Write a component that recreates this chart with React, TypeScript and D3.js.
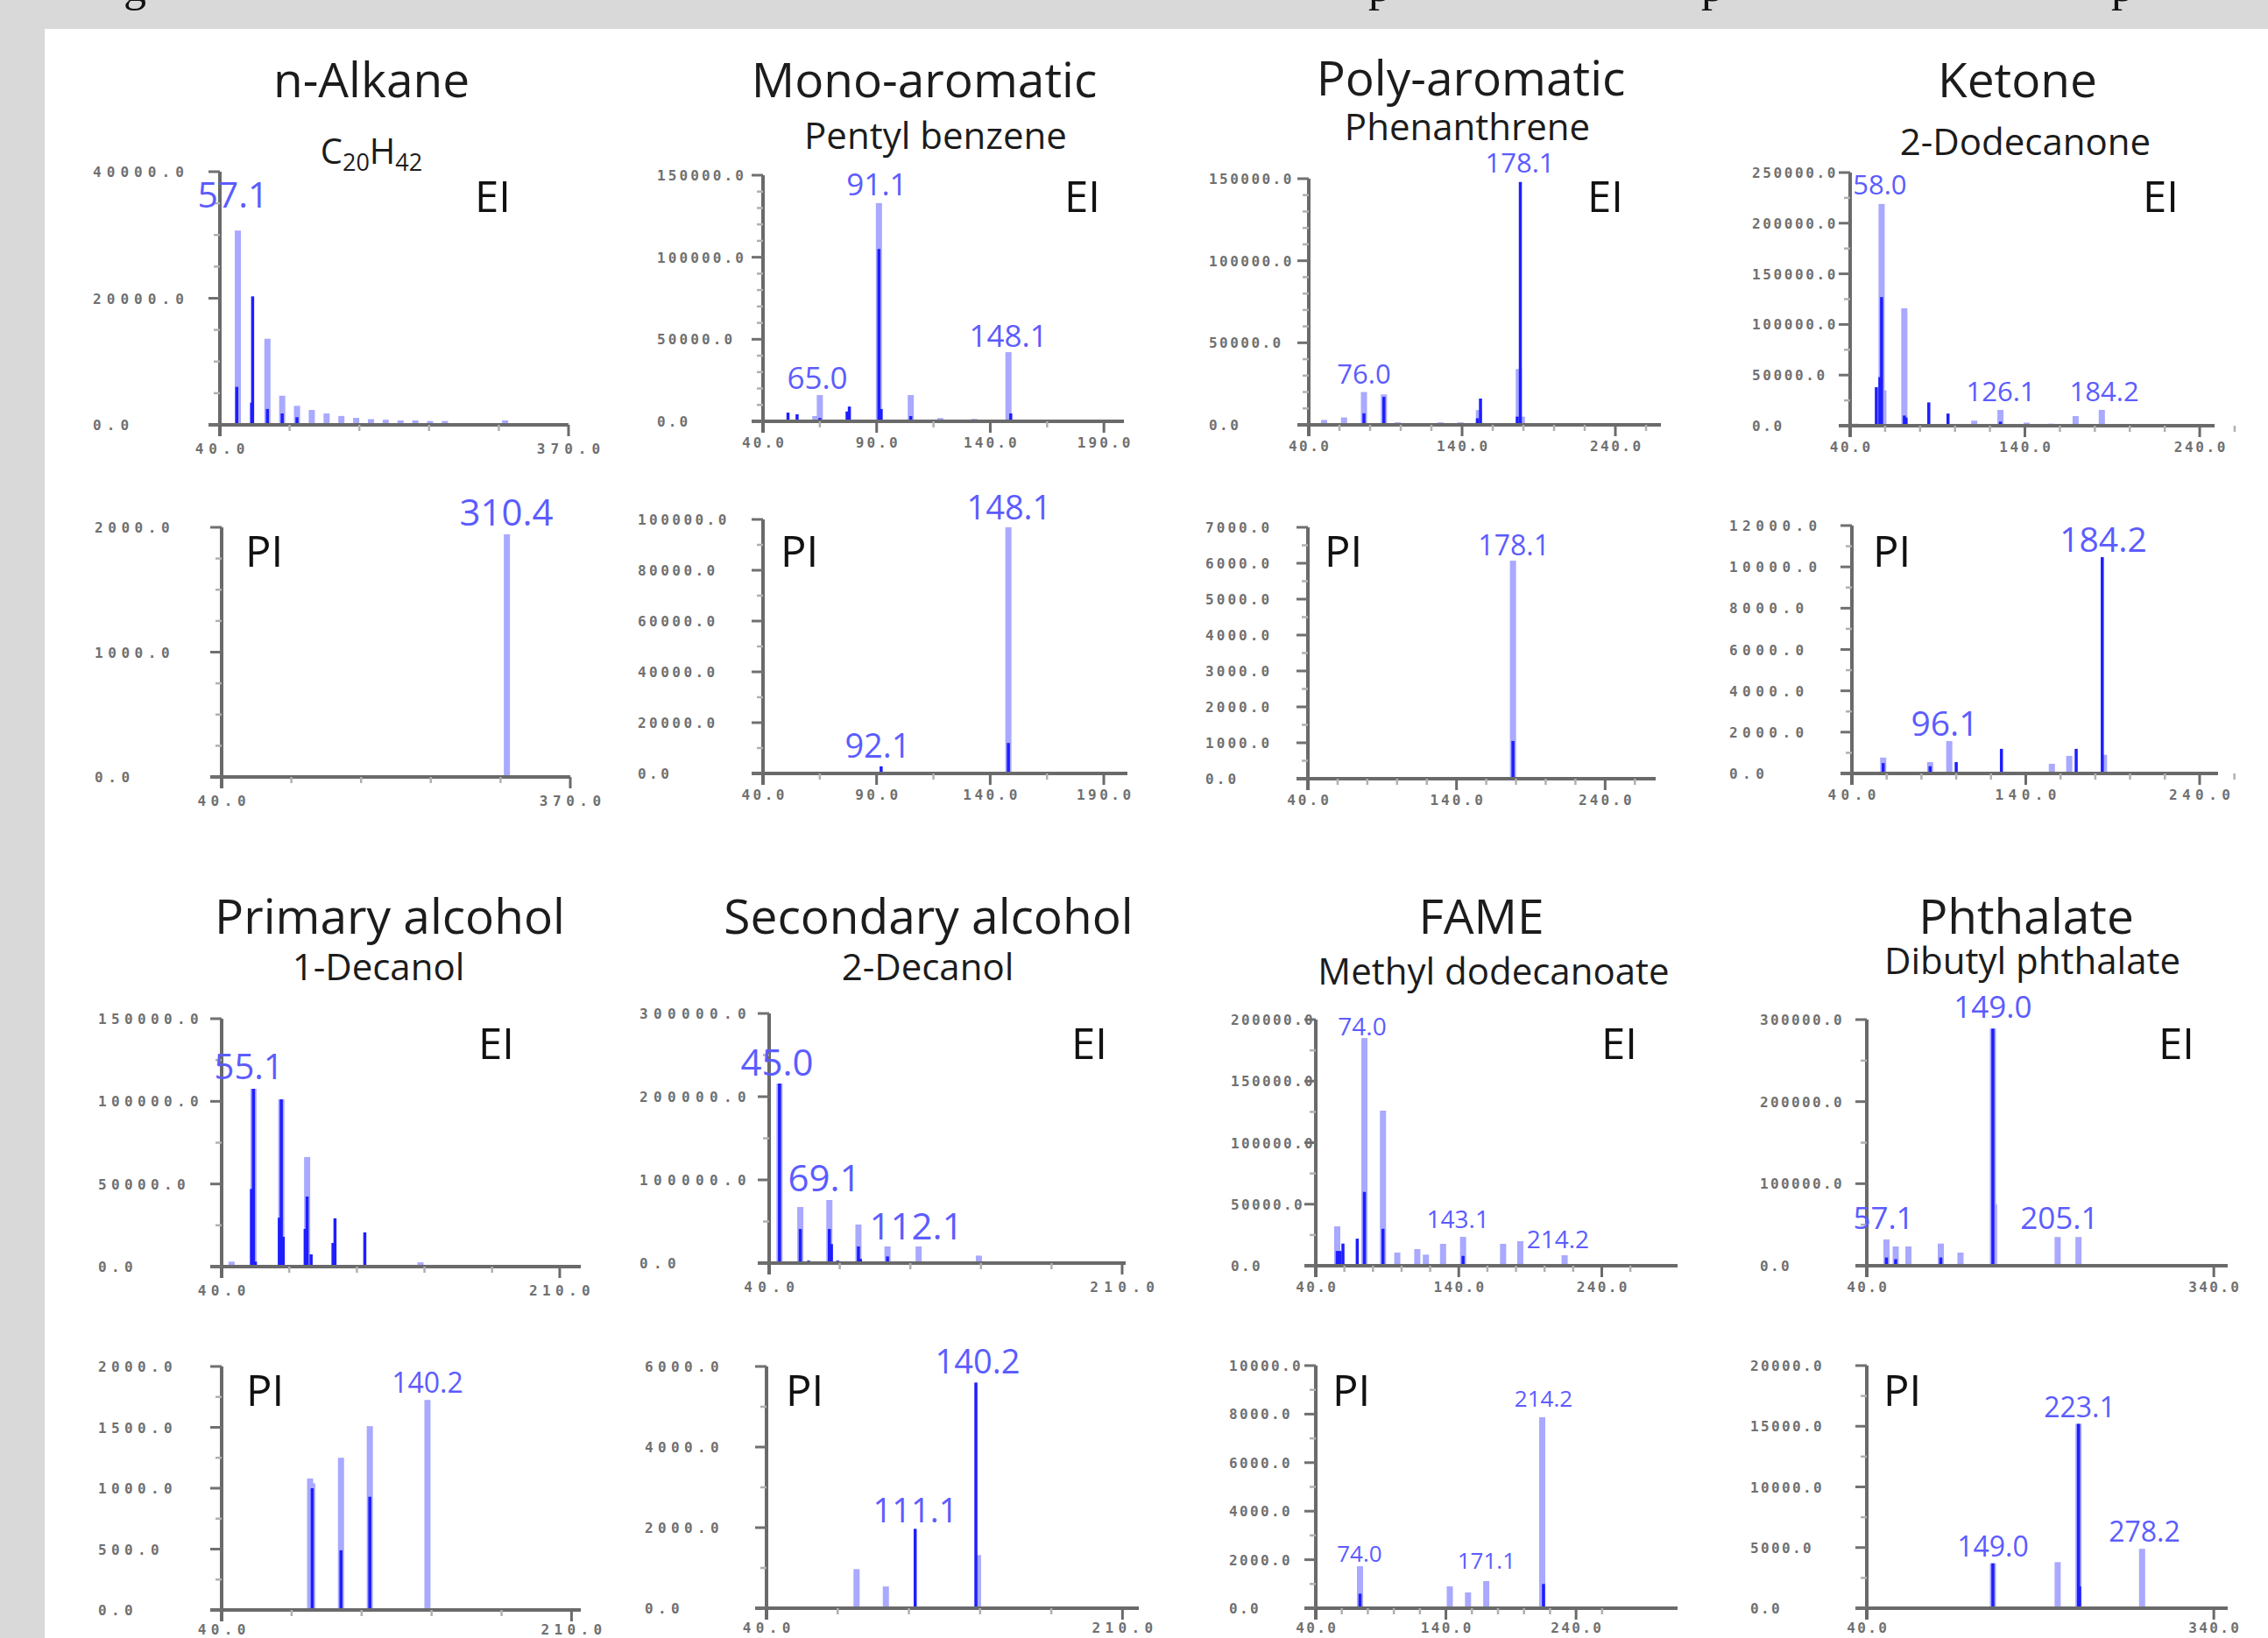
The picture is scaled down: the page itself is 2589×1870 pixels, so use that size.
import React from "react";
import * as d3 from "d3";

type Peak = [number, number];
type Note = { text: string; mz: number; v: number };

// ---------------- DATA ----------------
// Row 1: EI spectra
const alkaneEiLight: Peak[] = [[57, 30700], [85, 13600], [99, 4600], [113, 3000], [127, 2350], [141, 1800], [155, 1400], [169, 1100], [183, 900], [197, 800], [211, 700], [225, 700], [239, 600], [253, 600], [310, 700]];
const alkaneEiDark: Peak[] = [[56, 6000], [71, 20300], [70, 3500], [85, 2500], [99, 1800], [113, 1200]];
const alkaneEiNotes: Note[] = [{ text: "57.1", mz: 52.4, v: 34300 }];

const monoEiLight: Peak[] = [[91, 133000], [148, 42200], [65, 16000], [105, 16000], [63, 3200], [118, 2000], [133, 1500]];
const monoEiDark: Peak[] = [[91, 105000], [92, 7500], [149, 4800], [51, 5300], [55, 4300], [77, 6000], [78, 9000], [105, 3200], [65, 2000]];
const monoEiNotes: Note[] = [{ text: "91.1", mz: 90.1, v: 137700 }, { text: "148.1", mz: 148, v: 45400 }, { text: "65.0", mz: 63.9, v: 19800 }];

const polyEiLight: Peak[] = [[177, 34000], [76, 20000], [89, 18500], [151, 9000], [50, 3000], [63, 4500], [98, 1500], [126, 1500], [139, 1500], [179, 5000]];
const polyEiDark: Peak[] = [[178, 148000], [152, 16000], [76, 7000], [89, 17000], [176, 5000], [150, 4000]];
const polyEiNotes: Note[] = [{ text: "178.1", mz: 177.7, v: 153800 }, { text: "76.0", mz: 76, v: 25100 }];

const ketoneEiLight: Peak[] = [[58, 219000], [59, 35000], [71, 116000], [126, 15600], [184, 15600], [111, 5000], [141, 3000], [155, 2000], [169, 9500], [43, 2000]];
const ketoneEiDark: Peak[] = [[58, 127000], [57, 48000], [55, 38000], [71, 10000], [72, 8000], [85, 23000], [96, 12000], [126, 4000]];
const ketoneEiNotes: Note[] = [{ text: "58.0", mz: 57, v: 228400 }, { text: "126.1", mz: 126.2, v: 24200 }, { text: "184.2", mz: 185.4, v: 24200 }];

// Row 2: PI spectra
const alkanePiLight: Peak[] = [[310, 1944]];
const alkanePiDark: Peak[] = [];
const alkanePiNotes: Note[] = [{ text: "310.4", mz: 309.5, v: 2014 }];

const monoPiLight: Peak[] = [[148, 96900]];
const monoPiDark: Peak[] = [[148, 12000], [92, 2800]];
const monoPiNotes: Note[] = [{ text: "148.1", mz: 148.3, v: 100000 }, { text: "92.1", mz: 90.5, v: 6200 }];

const polyPiLight: Peak[] = [[178, 6070]];
const polyPiDark: Peak[] = [[178, 1050]];
const polyPiNotes: Note[] = [{ text: "178.1", mz: 178.6, v: 6220 }];

const ketonePiLight: Peak[] = [[185, 900], [58, 770], [85, 550], [96, 1570], [155, 470], [165, 850]];
const ketonePiDark: Peak[] = [[184, 10470], [100, 550], [126, 1190], [169, 1190], [58, 500], [85, 350]];
const ketonePiNotes: Note[] = [{ text: "96.1", mz: 93.4, v: 1830 }, { text: "184.2", mz: 184.6, v: 10720 }];

// Row 3: EI spectra
const primaryEiLight: Peak[] = [[56, 107600], [70, 101200], [83, 66300], [140, 2600], [45, 3000]];
const primaryEiDark: Peak[] = [[56, 107600], [55, 47000], [57, 3000], [70, 101200], [69, 29600], [71, 18000], [83, 42400], [82, 22800], [85, 7400], [97, 29200], [96, 14300], [112, 20700]];
const primaryEiNotes: Note[] = [{ text: "55.1", mz: 53.7, v: 113400 }];

const secondaryEiLight: Peak[] = [[45, 215800], [55, 67400], [69, 75800], [83, 46300], [97, 20000], [112, 20000], [141, 9000]];
const secondaryEiDark: Peak[] = [[45, 215800], [55, 41000], [59, 3000], [69, 41000], [70, 22800], [73, 3000], [83, 20000], [84, 5000], [97, 8000], [126, 2000]];
const secondaryEiNotes: Note[] = [{ text: "45.0", mz: 43.8, v: 225300 }, { text: "69.1", mz: 66.6, v: 86300 }, { text: "112.1", mz: 110.9, v: 28400 }];

const fameEiLight: Peak[] = [[74, 185000], [87, 126000], [143, 23500], [55, 32000], [97, 10700], [111, 13500], [129, 17800], [171, 17800], [183, 20000], [214, 8500], [117, 9000]];
const fameEiDark: Peak[] = [[74, 60000], [87, 30000], [59, 18000], [69, 22000], [57, 12000], [55, 12000], [143, 8000]];
const fameEiNotes: Note[] = [{ text: "74.0", mz: 72.5, v: 187200 }, { text: "143.1", mz: 139.4, v: 30600 }, { text: "214.2", mz: 209.3, v: 14200 }];

const phthalateEiLight: Peak[] = [[149, 289000], [150, 75000], [57, 32000], [205, 35000], [223, 35000], [65, 23500], [76, 23500], [104, 27000], [121, 16000]];
const phthalateEiDark: Peak[] = [[149, 289000], [57, 10000], [65, 8000], [104, 10000]];
const phthalateEiNotes: Note[] = [{ text: "149.0", mz: 149, v: 302000 }, { text: "57.1", mz: 54.4, v: 44800 }, { text: "205.1", mz: 206.5, v: 44800 }];

// Row 4: PI spectra
const primaryPiLight: Peak[] = [[140, 1725], [83, 1080], [84, 1040], [112, 1510], [98, 1250]];
const primaryPiDark: Peak[] = [[112, 930], [98, 490], [84, 1000]];
const primaryPiNotes: Note[] = [{ text: "140.2", mz: 140, v: 1784 }];

const secondaryPiLight: Peak[] = [[141, 1320], [97, 540], [83, 970]];
const secondaryPiDark: Peak[] = [[140, 5600], [111, 1970]];
const secondaryPiNotes: Note[] = [{ text: "140.2", mz: 140.8, v: 5826 }, { text: "111.1", mz: 111.1, v: 2130 }];

const famePiLight: Peak[] = [[214, 7870], [74, 1730], [171, 1120], [143, 900], [157, 650]];
const famePiDark: Peak[] = [[215, 1000], [74, 600]];
const famePiNotes: Note[] = [{ text: "74.0", mz: 73.6, v: 1910 }, { text: "171.1", mz: 171.2, v: 1620 }, { text: "214.2", mz: 215, v: 8300 }];

const phthalatePiLight: Peak[] = [[223, 15200], [278, 4900], [149, 3700], [205, 3800]];
const phthalatePiDark: Peak[] = [[223, 15200], [149, 3700], [224, 1800]];
const phthalatePiNotes: Note[] = [{ text: "223.1", mz: 224, v: 15740 }, { text: "278.2", mz: 280, v: 5490 }, { text: "149.0", mz: 149, v: 4260 }];

// Tick values
const xTicksAlkane = [40, 370];
const xMinorAlkane = [106, 172, 238, 304];
const xTicksMono = [40, 90, 140, 190];
const xMinorMono = [65, 115, 165];
const xTicksHundred = [40, 140, 240];
const xMinorHundred = [60, 80, 100, 120, 160, 180, 200, 220, 260];
const xTicksAlcohol = [40, 210];
const xMinorAlcohol = [74, 108, 142, 176];
const xTicksPhthalate = [40, 340];
const xMinorPhthalate: number[] = [];

const yTicksAlkaneEi = [0, 20000, 40000];
const yTicks150k = [0, 50000, 100000, 150000];
const yTicksKetoneEi = [0, 50000, 100000, 150000, 200000, 250000];
const yTicksAlkanePi = [0, 1000, 2000];
const yTicksMonoPi = [0, 20000, 40000, 60000, 80000, 100000];
const yTicksPolyPi = [0, 1000, 2000, 3000, 4000, 5000, 6000, 7000];
const yTicksKetonePi = [0, 2000, 4000, 6000, 8000, 10000, 12000];
const yTicks300kBig = [0, 100000, 200000, 300000];
const yTicksFameEi = [0, 50000, 100000, 150000, 200000];
const yTicksPrimaryPi = [0, 500, 1000, 1500, 2000];
const yTicksSecondaryPi = [0, 2000, 4000, 6000];
const yTicksFamePi = [0, 2000, 4000, 6000, 8000, 10000];
const yTicksPhthalatePi = [0, 5000, 10000, 15000, 20000];

// ---------------- LAYOUT ----------------
type Pos = { x: number; y: number };
type Spec = {
  mode: "EI" | "PI";
  title?: string;
  sub?: React.ReactNode;
  light: Peak[];
  dark: Peak[];
  notes: Note[];
  xTicks: number[];
  xMinor: number[];
  yTicks: number[];
  yMinor: number;
  xEnd: number;
  yMax: number;
  ax: number; rx: number; top: number; base: number;
  tickX: number; adv: number; noteSize: number;
  titlePos?: Pos; subPos?: Pos; modePos: Pos; xLabelDy: number;
};

const alkaneSub = (
  <>
    C<tspan fontSize={27} dy={8}>20</tspan><tspan dy={-8}>H</tspan><tspan fontSize={27} dy={8}>42</tspan>
  </>
);

const specs: Spec[] = [
  { mode: "EI", title: "n-Alkane", sub: alkaneSub, light: alkaneEiLight, dark: alkaneEiDark, notes: alkaneEiNotes, xTicks: xTicksAlkane, xMinor: xMinorAlkane, yTicks: yTicksAlkaneEi, yMinor: 5000, xEnd: 370, yMax: 40000, ax: 251, rx: 649, top: 196, base: 485, tickX: 106, adv: 15.7, noteSize: 41, titlePos: { x: 424, y: 111 }, subPos: { x: 424, y: 187 }, modePos: { x: 583, y: 242 }, xLabelDy: 33 },
  { mode: "EI", title: "Mono-aromatic", sub: "Pentyl benzene", light: monoEiLight, dark: monoEiDark, notes: monoEiNotes, xTicks: xTicksMono, xMinor: xMinorMono, yTicks: yTicks150k, yMinor: 10000, xEnd: 198.8, yMax: 150000, ax: 871, rx: 1283, top: 200, base: 481, tickX: 750, adv: 12.75, noteSize: 35, titlePos: { x: 1055, y: 111 }, subPos: { x: 1068, y: 170 }, modePos: { x: 1256, y: 242 }, xLabelDy: 30 },
  { mode: "EI", title: "Poly-aromatic", sub: "Phenanthrene", light: polyEiLight, dark: polyEiDark, notes: polyEiNotes, xTicks: xTicksHundred, xMinor: xMinorHundred, yTicks: yTicks150k, yMinor: 10000, xEnd: 269.7, yMax: 150000, ax: 1494, rx: 1896, top: 204, base: 485, tickX: 1380, adv: 12.1, noteSize: 31, titlePos: { x: 1679, y: 109 }, subPos: { x: 1675, y: 160 }, modePos: { x: 1853, y: 242 }, xLabelDy: 30 },
  { mode: "EI", title: "Ketone", sub: "2-Dodecanone", light: ketoneEiLight, dark: ketoneEiDark, notes: ketoneEiNotes, xTicks: xTicksHundred, xMinor: xMinorHundred, yTicks: yTicksKetoneEi, yMinor: 25000, xEnd: 248.5, yMax: 250000, ax: 2112, rx: 2528, top: 197, base: 486, tickX: 2000, adv: 12.25, noteSize: 31, titlePos: { x: 2303, y: 111 }, subPos: { x: 2312, y: 177 }, modePos: { x: 2487, y: 242 }, xLabelDy: 30 },

  { mode: "PI", light: alkanePiLight, dark: alkanePiDark, notes: alkanePiNotes, xTicks: xTicksAlkane, xMinor: xMinorAlkane, yTicks: yTicksAlkanePi, yMinor: 250, xEnd: 370, yMax: 2000, ax: 253, rx: 651, top: 602, base: 887, tickX: 108, adv: 15.2, noteSize: 42, modePos: { x: 280, y: 647 }, xLabelDy: 33 },
  { mode: "PI", light: monoPiLight, dark: monoPiDark, notes: monoPiNotes, xTicks: xTicksMono, xMinor: xMinorMono, yTicks: yTicksMonoPi, yMinor: 10000, xEnd: 200.4, yMax: 100000, ax: 871, rx: 1287, top: 593, base: 883, tickX: 728, adv: 13.1, noteSize: 38, modePos: { x: 891, y: 647 }, xLabelDy: 30 },
  { mode: "PI", light: polyPiLight, dark: polyPiDark, notes: polyPiNotes, xTicks: xTicksHundred, xMinor: xMinorHundred, yTicks: yTicksPolyPi, yMinor: 500, xEnd: 274, yMax: 7000, ax: 1493, rx: 1890, top: 602, base: 889, tickX: 1376, adv: 12.7, noteSize: 32, modePos: { x: 1512, y: 647 }, xLabelDy: 30 },
  { mode: "PI", light: ketonePiLight, dark: ketonePiDark, notes: ketonePiNotes, xTicks: xTicksHundred, xMinor: xMinorHundred, yTicks: yTicksKetonePi, yMinor: 1000, xEnd: 250.6, yMax: 12000, ax: 2114, rx: 2532, top: 600, base: 883, tickX: 1974, adv: 15.1, noteSize: 39, modePos: { x: 2138, y: 647 }, xLabelDy: 30 },

  { mode: "EI", title: "Primary alcohol", sub: "1-Decanol", light: primaryEiLight, dark: primaryEiDark, notes: primaryEiNotes, xTicks: xTicksAlcohol, xMinor: xMinorAlcohol, yTicks: yTicks150k, yMinor: 25000, xEnd: 220.6, yMax: 150000, ax: 253, rx: 663, top: 1163, base: 1446, tickX: 112, adv: 15, noteSize: 40, titlePos: { x: 445, y: 1066 }, subPos: { x: 432, y: 1119 }, modePos: { x: 587, y: 1209 }, xLabelDy: 33 },
  { mode: "EI", title: "Secondary alcohol", sub: "2-Decanol", light: secondaryEiLight, dark: secondaryEiDark, notes: secondaryEiNotes, xTicks: xTicksAlcohol, xMinor: xMinorAlcohol, yTicks: yTicks300kBig, yMinor: 50000, xEnd: 211.7, yMax: 300000, ax: 878, rx: 1285, top: 1157, base: 1442, tickX: 730, adv: 16, noteSize: 42, titlePos: { x: 1060, y: 1066 }, subPos: { x: 1059, y: 1119 }, modePos: { x: 1264, y: 1209 }, xLabelDy: 33 },
  { mode: "EI", title: "FAME", sub: "Methyl dodecanoate", light: fameEiLight, dark: fameEiDark, notes: fameEiNotes, xTicks: xTicksHundred, xMinor: xMinorHundred, yTicks: yTicksFameEi, yMinor: 25000, xEnd: 293, yMax: 200000, ax: 1502, rx: 1915, top: 1164, base: 1445, tickX: 1405, adv: 12, noteSize: 28, titlePos: { x: 1691, y: 1066 }, subPos: { x: 1705, y: 1124 }, modePos: { x: 1869, y: 1209 }, xLabelDy: 30 },
  { mode: "EI", title: "Phthalate", sub: "Dibutyl phthalate", light: phthalateEiLight, dark: phthalateEiDark, notes: phthalateEiNotes, xTicks: xTicksPhthalate, xMinor: xMinorPhthalate, yTicks: yTicks300kBig, yMinor: 50000, xEnd: 352, yMax: 300000, ax: 2131, rx: 2543, top: 1164, base: 1445, tickX: 2009, adv: 12, noteSize: 35, titlePos: { x: 2313, y: 1066 }, subPos: { x: 2320, y: 1112 }, modePos: { x: 2505, y: 1209 }, xLabelDy: 30 },

  { mode: "PI", light: primaryPiLight, dark: primaryPiDark, notes: primaryPiNotes, xTicks: xTicksAlcohol, xMinor: xMinorAlcohol, yTicks: yTicksPrimaryPi, yMinor: 250, xEnd: 214.5, yMax: 2000, ax: 253, rx: 663, top: 1560, base: 1838, tickX: 112, adv: 15, noteSize: 32, modePos: { x: 281, y: 1605 }, xLabelDy: 28 },
  { mode: "PI", light: secondaryPiLight, dark: secondaryPiDark, notes: secondaryPiNotes, xTicks: xTicksAlcohol, xMinor: xMinorAlcohol, yTicks: yTicksSecondaryPi, yMinor: 1000, xEnd: 217.8, yMax: 6000, ax: 875, rx: 1300, top: 1560, base: 1836, tickX: 736, adv: 15, noteSize: 38, modePos: { x: 897, y: 1605 }, xLabelDy: 28 },
  { mode: "PI", light: famePiLight, dark: famePiDark, notes: famePiNotes, xTicks: xTicksHundred, xMinor: xMinorHundred, yTicks: yTicksFamePi, yMinor: 1000, xEnd: 318, yMax: 10000, ax: 1502, rx: 1915, top: 1559, base: 1836, tickX: 1403, adv: 12, noteSize: 26, modePos: { x: 1521, y: 1605 }, xLabelDy: 28 },
  { mode: "PI", light: phthalatePiLight, dark: phthalatePiDark, notes: phthalatePiNotes, xTicks: xTicksPhthalate, xMinor: xMinorPhthalate, yTicks: yTicksPhthalatePi, yMinor: 2500, xEnd: 352, yMax: 20000, ax: 2131, rx: 2543, top: 1559, base: 1836, tickX: 1998, adv: 12, noteSize: 32, modePos: { x: 2150, y: 1605 }, xLabelDy: 28 },
];

const fmt = d3.format(".1f");
const TITLE_FONT = "'Open Sans', 'Noto Sans', sans-serif";
const TICK_FONT = "'DejaVu Sans Mono', monospace";
const TICK_SIZE = 16;
const TICK_ADV = 0.602 * TICK_SIZE;
const LIGHT = "#a9a9ff";
const DARK = "#1e1eff";
const NOTE = "#5c5cff";
const AXIS = "#6a6a6a";
const TICKC = "#707070";

function Spectrum({ s }: { s: Spec }) {
  const x = d3.scaleLinear().domain([40, s.xEnd]).range([s.ax, s.rx]);
  const y = d3.scaleLinear().domain([0, s.yMax]).range([s.base, s.top]);
  const minorY = d3.range(0, s.yMax + 1e-6, s.yMinor).filter((v) => !s.yTicks.includes(v));
  const ls = Math.max(0, s.adv - TICK_ADV);
  return (
    <g>
      {s.light.map(([mz, v], i) => (
        <rect key={"l" + i} x={x(mz) - 3.5} y={y(v)} width={7} height={s.base - y(v)} fill={LIGHT} />
      ))}
      {s.dark.map(([mz, v], i) => (
        <rect key={"d" + i} x={x(mz) - 1.75} y={y(v)} width={3.5} height={s.base - y(v)} fill={DARK} />
      ))}
      <line x1={s.ax} x2={s.ax} y1={s.top} y2={s.base + 13} stroke={AXIS} strokeWidth={4} />
      <line x1={s.ax - 13} x2={s.rx} y1={s.base} y2={s.base} stroke={AXIS} strokeWidth={4} />
      {s.yTicks.map((v) => (
        <g key={"yt" + v}>
          <line x1={s.ax - 13} x2={s.ax} y1={y(v)} y2={y(v)} stroke={TICKC} strokeWidth={3} />
          <text x={s.tickX} y={y(v) + 6} fontFamily={TICK_FONT} fontWeight="bold" fontSize={TICK_SIZE} letterSpacing={ls} fill={TICKC}>{fmt(v)}</text>
        </g>
      ))}
      {minorY.map((v) => (
        <line key={"ym" + v} x1={s.ax - 7} x2={s.ax} y1={y(v)} y2={y(v)} stroke="#b0b0b0" strokeWidth={2.5} />
      ))}
      {s.xTicks.map((v) => (
        <g key={"xt" + v}>
          <line x1={x(v)} x2={x(v)} y1={s.base} y2={s.base + 13} stroke={AXIS} strokeWidth={3} />
          <text x={x(v) + ls / 2} y={s.base + s.xLabelDy} textAnchor="middle" fontFamily={TICK_FONT} fontWeight="bold" fontSize={TICK_SIZE} letterSpacing={ls} fill={TICKC}>{fmt(v)}</text>
        </g>
      ))}
      {s.xMinor.map((v) => (
        <line key={"xm" + v} x1={x(v)} x2={x(v)} y1={s.base} y2={s.base + 7} stroke="#b0b0b0" strokeWidth={2.5} />
      ))}
      {s.notes.map((n, i) => (
        <text key={"n" + i} x={x(n.mz)} y={y(n.v)} textAnchor="middle" fontFamily={TITLE_FONT} fontSize={s.noteSize} fill={NOTE}>{n.text}</text>
      ))}
      {s.title && s.titlePos && (
        <text x={s.titlePos.x} y={s.titlePos.y} textAnchor="middle" fontFamily={TITLE_FONT} fontSize={55} fill="#1c1c1c">{s.title}</text>
      )}
      {s.sub && s.subPos && (
        <text x={s.subPos.x} y={s.subPos.y} textAnchor="middle" fontFamily={TITLE_FONT} fontSize={typeof s.sub === "string" ? 42 : 40} fill="#1c1c1c">{s.sub}</text>
      )}
      <text x={s.modePos.x} y={s.modePos.y} textAnchor={s.mode === "EI" ? "end" : "start"} fontFamily={TITLE_FONT} fontSize={49} fill="#111">{s.mode}</text>
    </g>
  );
}

export default function App() {
  return (
    <svg width={2589} height={1870} style={{ position: "absolute", left: 0, top: 0 }} xmlns="http://www.w3.org/2000/svg">
      <rect x={0} y={0} width={2589} height={1870} fill="#d9d9d9" />
      <rect x={51} y={33} width={2538} height={1837} fill="#ffffff" />
      <g fontFamily="'Liberation Serif', serif" fontSize={52} fill="#111">
        <text x={141} y={1}>g</text>
        <text x={1562} y={1}>p</text>
        <text x={1942} y={1}>p</text>
        <text x={2410} y={1}>p</text>
      </g>
      {specs.map((s, i) => (
        <Spectrum key={i} s={s} />
      ))}
    </svg>
  );
}
